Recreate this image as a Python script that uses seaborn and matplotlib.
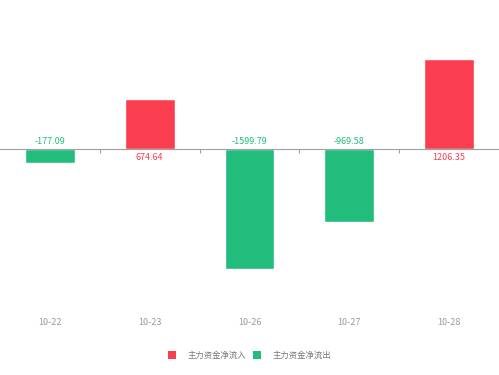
import matplotlib
matplotlib.use("Agg")
import matplotlib.pyplot as plt
import matplotlib.transforms as mtransforms
from matplotlib.patches import Patch
from matplotlib.ticker import FixedLocator, NullFormatter
import seaborn as sns
import pandas as pd

# 主力资金净流向（万元）
dates = ["10-22", "10-23", "10-26", "10-27", "10-28"]
net_flow = [-177.09, 674.64, -1599.79, -969.58, 1206.35]
series_names = ["主力资金净流入", "主力资金净流出"]
series_colors = ["#fa3e4f", "#22bd7d"]

sns.set_theme(style="white")
plt.rcParams["font.family"] = ["Noto Sans CJK SC", "DejaVu Sans"]
plt.rcParams["axes.unicode_minus"] = False

df = pd.DataFrame({
    "日期": dates,
    "金额": net_flow,
    "类型": [series_names[0] if v > 0 else series_names[1] for v in net_flow],
})
palette = dict(zip(series_names, series_colors))

fig = plt.figure(figsize=(4.99, 3.75), dpi=100)
ax = fig.add_axes([0.0, 0.2, 1.0, 0.7467])

sns.barplot(data=df, x="日期", y="金额", hue="类型",
            hue_order=series_names, palette=palette, dodge=False,
            width=0.5, saturation=1, ax=ax, legend=False)

ax.set_xlim(-0.5, len(dates) - 0.5)
ax.set_ylim(-2007, 1727)

for side in ["top", "right", "left"]:
    ax.spines[side].set_visible(False)
ax.spines["bottom"].set_position(("data", 0))
ax.spines["bottom"].set_color("#a0a0a0")
ax.spines["bottom"].set_linewidth(0.8)
ax.set_yticks([])
ax.set_xlabel("")
ax.set_ylabel("")

# small separators between categories on the zero line
ax.xaxis.set_major_formatter(NullFormatter())
ax.tick_params(axis="x", which="major", length=0)
ax.xaxis.set_minor_locator(FixedLocator([i + 0.5 for i in range(len(dates) - 1)]))
ax.tick_params(axis="x", which="minor", length=3, width=0.8, color="#a0a0a0",
               direction="out", bottom=True)

# category labels at the bottom of the plot area
trans = mtransforms.blended_transform_factory(ax.transData, ax.transAxes)
for i, d in enumerate(dates):
    ax.text(i, -0.079, d, transform=trans, ha="center", va="center",
            fontsize=6.5, color="#9a9a9a")

# value labels on the opposite side of the zero line
for i, v in enumerate(net_flow):
    color = series_colors[0] if v > 0 else series_colors[1]
    offset = -5.6 if v > 0 else 5.6
    ax.annotate(f"{v:.2f}", xy=(i, 0), xytext=(0, offset),
                textcoords="offset points", ha="center", va="center",
                fontsize=6.5, color=color)

handles = [Patch(facecolor=c, edgecolor="none") for c in series_colors]
fig.legend(handles, series_names, loc="center", bbox_to_anchor=(0.5, 0.053),
           ncol=2, frameon=False, fontsize=6, labelcolor="#777777",
           handlelength=0.95, handleheight=1.2, handletextpad=1.35,
           columnspacing=0.9)

fig.savefig("out.png", dpi=100)
